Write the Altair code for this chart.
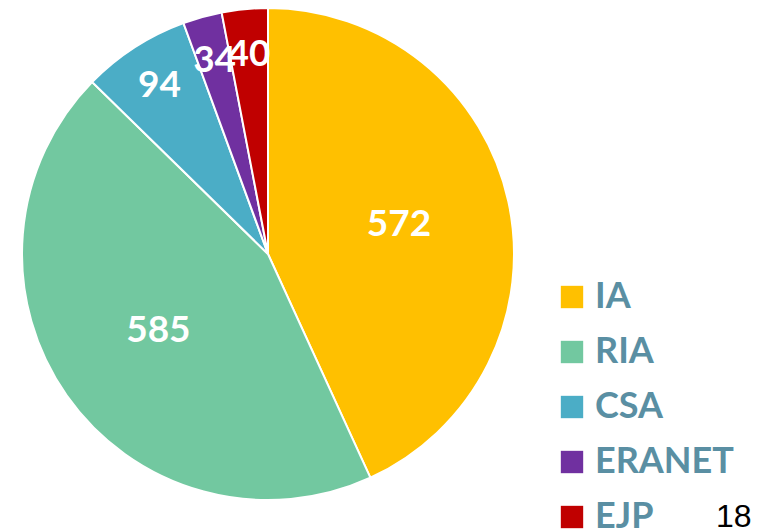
import altair as alt
import pandas as pd

categories = ["IA", "RIA", "CSA", "ERANET", "EJP"]
counts = [572, 585, 94, 34, 40]
colors = ["#FFC000", "#72C8A0", "#4BADC6", "#7030A0", "#C00000"]
page_number = ["18"]

df = pd.DataFrame({"cat": categories, "count": counts, "idx": list(range(len(categories)))})
pn = pd.DataFrame({"t": page_number})

W, H = 753, 523
CX, CY = 260, 246

arcs = alt.Chart(df).mark_arc(outerRadius=246, stroke="white", strokeWidth=2).encode(
    theta=alt.Theta("count:Q", stack=True),
    order=alt.Order("idx:Q"),
    x=alt.value(CX),
    y=alt.value(CY),
    color=alt.Color(
        "cat:N",
        scale=alt.Scale(domain=categories, range=colors),
        sort=categories,
        legend=alt.Legend(
            title=None,
            orient="none",
            legendX=546,
            legendY=271,
            symbolType="square",
            symbolSize=500,
            symbolStrokeWidth=0,
            labelFont="Lato",
            labelFontWeight="bold",
            labelFontSize=36,
            labelColor="#5A8FA3",
            labelOffset=5,
            rowPadding=19,
            labelLimit=400,
            padding=0,
        ),
    ),
)

labels = alt.Chart(df).transform_stack(
    stack="count", as_=["c0", "c1"], groupby=[], sort=[alt.SortField("idx")]
).transform_calculate(
    mid="(datum.c0 + datum.c1) / 2",
    r="datum.count > 200 ? 134 : 200",
).mark_text(
    font="Lato", fontWeight="bold", fontSize=37, color="white",
    align="center", baseline="middle",
).encode(
    theta=alt.Theta("mid:Q", stack=None),
    radius=alt.Radius("r:Q", scale=None),
    x=alt.value(CX),
    y=alt.value(CY),
    text=alt.Text("count:Q"),
)

page = alt.Chart(pn).mark_text(
    font="Liberation Sans", fontSize=32, color="black", align="left", baseline="alphabetic"
).encode(
    x=alt.value(708),
    y=alt.value(519),
    text="t:N",
)

chart = alt.layer(arcs, labels, page).properties(
    width=W, height=H, padding=0, autosize=alt.AutoSizeParams(type="none")
).configure_view(stroke=None)

chart.save("out.html", embed_options={"renderer": "svg", "actions": False})
